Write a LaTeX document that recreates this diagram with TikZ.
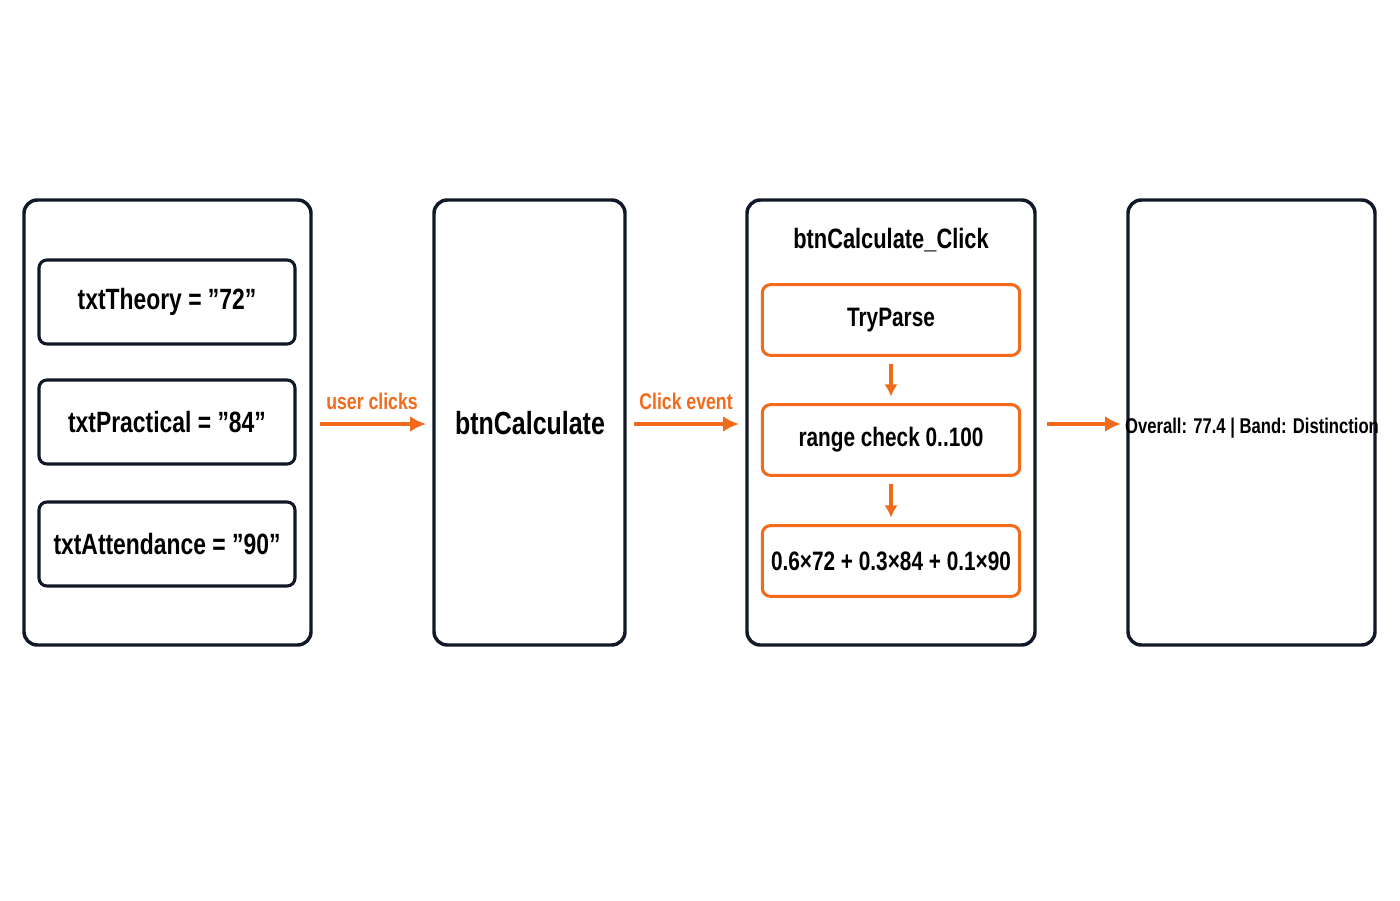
\documentclass[tikz,border=0pt]{standalone}
\usepackage{fontspec}
\setmainfont{Liberation Sans}[FakeStretch=0.78]
\usetikzlibrary{positioning,arrows.meta}
\definecolor{flowOrange}{RGB}{242,106,27}
\definecolor{frameInk}{RGB}{17,24,39}
\newcommand{\qt}{\symbol{34}}
\tikzset{
  panel/.style={draw=frameInk,line width=2.6pt,rounded corners=10pt,inner sep=0pt},
  field/.style={draw=frameInk,line width=2.3pt,rounded corners=6pt,minimum width=192pt,minimum height=63pt,font=\bfseries\fontsize{22}{26}\selectfont},
  stage/.style={draw=flowOrange,line width=2.3pt,rounded corners=6pt,minimum width=193pt,minimum height=53pt,font=\bfseries\fontsize{20}{24}\selectfont},
  flow/.style={draw=flowOrange,line width=3pt,-{Latex[length=12pt,width=12pt]}},
  flowlabel/.style={text=flowOrange,font=\bfseries\fontsize{17}{20}\selectfont},
}
\begin{document}
\begin{tikzpicture}[x=0.75pt,y=0.75pt,yscale=-1,xscale=1]
\useasboundingbox (0,0) rectangle (1400,900);

%Panels
\draw[panel] (24,200) rectangle (311,645);
\draw[panel] (434,200) rectangle (625,645);
\draw[panel] (747,200) rectangle (1035,645);
\draw[panel] (1128,200) rectangle (1375,645);

% Inputs
\node[field] (theory) at (167,302) {txtTheory = \qt72\qt};
\node[field] (practical) at (167,422) {txtPractical = \qt84\qt};
\node[field] (attendance) at (167,544) {txtAttendance = \qt90\qt};

% Button and result
\node[font=\bfseries\fontsize{24}{28}\selectfont] (button) at (530,423) {btnCalculate};
\node[font=\bfseries\fontsize{16}{19}\selectfont] (result) at (1252,428) {Overall: 77.4 | Band: Distinction};

% Handler
\node[font=\bfseries\fontsize{21}{25}\selectfont] (handler) at (891,240) {btnCalculate\_Click};
\node[stage] (parse) at (891,320) {TryParse};
\node[stage] (range) at (891,440) {range check 0..100};
\node[stage] (formula) at (891,561) {0.6×72 + 0.3×84 + 0.1×90};

\draw[flow,line width=2.4pt,-{Latex[length=9pt,width=10pt]},shorten <=5pt,shorten >=5pt] (parse) -- (range);
\draw[flow,line width=2.4pt,-{Latex[length=9pt,width=10pt]},shorten <=5pt,shorten >=5pt] (range) -- (formula);

% Connectors between panels
\coordinate (a1) at (320,424); \coordinate (a2) at (426,424);
\coordinate (b1) at (634,424); \coordinate (b2) at (739,424);
\coordinate (c1) at (1047,424); \coordinate (c2) at (1121,424);
\draw[flow] (a1) -- (a2);
\draw[flow] (b1) -- (b2);
\draw[flow] (c1) -- (c2);
\node[flowlabel] (clicks) at (372,401) {user clicks};
\node[flowlabel] (event) at (686,401) {Click event};

\end{tikzpicture}
\end{document}
